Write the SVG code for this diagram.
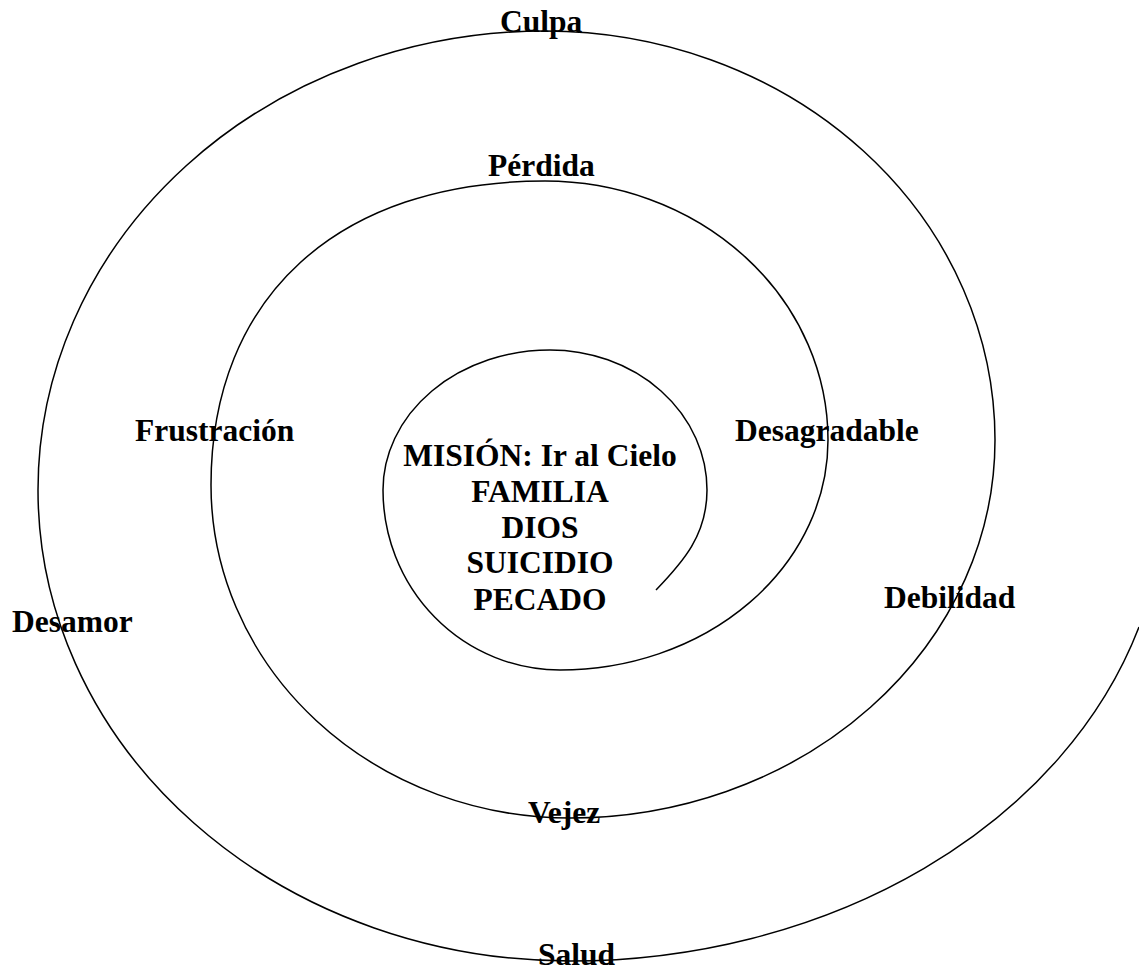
<svg xmlns="http://www.w3.org/2000/svg" width="1139" height="973" viewBox="0 0 1139 973">
<style>
.lbl{font-family:"Liberation Serif","Times New Roman",serif;font-weight:bold;font-size:31.5px;fill:#000}
.ctr{text-anchor:middle}
.sp{fill:none;stroke:#000;stroke-width:1.5}
</style>
<rect width="1139" height="973" fill="#fff"/>
<g id="connectors">
<path class="sp" d="M656,590 C683,562 707,535 707,490 A157,140 0 0 0 550,350 A167,140 0 0 0 383,490 A177,180 0 0 0 560,670 A268,230 0 0 0 828,440 A283,259 0 0 0 545,181 C338,181 211,297 211,485 A359,333 0 0 0 570,818 A425,378 0 0 0 995,440 A450,409 0 0 0 545,31 A507,459 0 0 0 38,490 A532,471 0 0 0 570,961 A595,471 0 0 0 1139,627"/>
</g>
<g id="center">
<text class="lbl ctr" x="540" y="466">MISIÓN: Ir al Cielo</text>
<text class="lbl ctr" x="540" y="502">FAMILIA</text>
<text class="lbl ctr" x="540" y="538">DIOS</text>
<text class="lbl ctr" x="540" y="573">SUICIDIO</text>
<text class="lbl ctr" x="540" y="610">PECADO</text>
</g>
<g id="culpa"><text class="lbl" x="500" y="32">Culpa</text></g>
<g id="perdida"><text class="lbl" x="488" y="176">Pérdida</text></g>
<g id="frustracion"><text class="lbl" x="135" y="441">Frustración</text></g>
<g id="desagradable"><text class="lbl" x="735" y="441">Desagradable</text></g>
<g id="desamor"><text class="lbl" x="12" y="632">Desamor</text></g>
<g id="debilidad"><text class="lbl" x="884" y="608">Debilidad</text></g>
<g id="vejez"><text class="lbl" x="528" y="823">Vejez</text></g>
<g id="salud"><text class="lbl" x="538" y="965">Salud</text></g>
</svg>
